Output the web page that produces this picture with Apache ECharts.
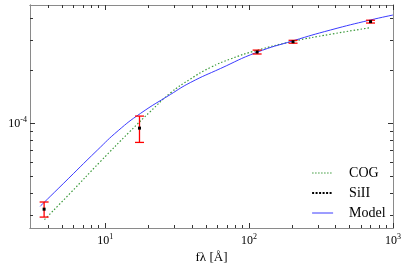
<!DOCTYPE html>
<html>
<head>
<meta charset="utf-8">
<script src="https://cdn.jsdelivr.net/npm/echarts@6/dist/echarts.min.js"></script>
<style>
html,body{margin:0;padding:0;background:#fff}
#main{width:407px;height:270px}
</style>
</head>
<body>
<div id="main"></div>
<script>
// axis extents and ticks (data units)
const xRange = [3, 1000];
const yRange = [2.53e-5, 4.74e-4];
const xMajorTicks = [10, 100, 1000];
const xMinorTicks = [4, 5, 6, 7, 8, 9, 20, 30, 40, 50, 60, 70, 80, 90, 200, 300, 400, 500, 600, 700, 800, 900];
const yMajorTicks = [1e-4];
const yMinorTicks = [3e-5, 4e-5, 5e-5, 6e-5, 7e-5, 8e-5, 9e-5, 2e-4, 3e-4, 4e-4];

// SiII measurements with error bars
const siX  = [3.76, 17.3, 113.7, 202, 698];
const siY  = [3.24e-5, 9.40e-5, 2.556e-4, 2.925e-4, 3.81e-4];
const siLo = [2.92e-5, 7.79e-5, 2.49e-4, 2.87e-4, 3.74e-4];
const siHi = [3.56e-5, 1.101e-4, 2.62e-4, 2.98e-4, 3.88e-4];

// model curve
const modelX = [3.53, 5.104, 8.797, 12.31, 17.52, 28.33, 39.02, 63.1, 112.3, 203.2, 367.5, 697.4, 1000];
const modelY = [3.367e-5, 4.529e-5, 7.028e-5, 9.097e-5, 1.138e-4, 1.461e-4, 1.71e-4, 2.056e-4, 2.539e-4, 2.965e-4, 3.412e-4, 3.893e-4, 4.155e-4];

// curve of growth
const cogX = [3.782, 5.707, 9.232, 14.93, 20.56, 28.33, 39.02, 53.76, 74.07, 112.3, 200, 367.5, 697.4];
const cogY = [2.827e-5, 3.996e-5, 6.048e-5, 9.036e-5, 1.168e-4, 1.49e-4, 1.791e-4, 2.084e-4, 2.331e-4, 2.606e-4, 2.934e-4, 3.226e-4, 3.517e-4];

const lg = Math.log10;
const pairs = (xs, ys) => xs.map((x, i) => [lg(x), lg(ys[i])]);

const serif = 'Liberation Serif';
const frameColor = '#8a8a8a';
const tickColor = '#333';
const supRich = {
    b: { fontFamily: serif, fontSize: 12, color: '#000' },
    s: { fontFamily: serif, fontSize: 8, color: '#000', padding: [0, 0, 7, 0] }
};
function supLabel(v) {
    return '{b|10}{s|' + Math.round(v) + '}';
}

function makeAxis(pos, range, ticks, len, withLabels, labelTicks) {
    const ax = {
        type: 'value',
        position: pos,
        min: lg(range[0]),
        max: lg(range[1]),
        splitLine: { show: false },
        axisLine: { show: true, onZero: false, lineStyle: { color: frameColor, width: 1 } },
        axisTick: {
            show: true, inside: true, length: len,
            customValues: ticks.map(lg),
            lineStyle: { color: tickColor, width: 1 }
        },
        axisLabel: { show: false }
    };
    if (withLabels) {
        ax.axisLabel = {
            show: true,
            customValues: labelTicks.map(lg),
            formatter: supLabel,
            rich: supRich,
            margin: pos === 'left' ? 3 : 5
        };
    }
    return ax;
}

const xAxes = [
    makeAxis('bottom', xRange, xMajorTicks, 5, true, xMajorTicks),
    makeAxis('bottom', xRange, xMinorTicks, 3, false),
    makeAxis('top', xRange, xMajorTicks, 5, false),
    makeAxis('top', xRange, xMinorTicks, 3, false)
];
xAxes[0].name = 'fλ [Å]';
xAxes[0].nameLocation = 'middle';
xAxes[0].nameGap = 22;
xAxes[0].nameTextStyle = { fontFamily: serif, fontSize: 13, color: '#000' };

const yAxes = [
    makeAxis('left', yRange, yMajorTicks, 5, true, yMajorTicks),
    makeAxis('left', yRange, yMinorTicks, 3, false),
    makeAxis('right', yRange, yMajorTicks, 5, false),
    makeAxis('right', yRange, yMinorTicks, 3, false)
];

const hidden = { opacity: 0 };

const chart = echarts.init(document.getElementById('main'));
chart.setOption({
    animation: false,
    backgroundColor: '#fff',
    grid: { left: 30, right: 14, top: 5, bottom: 42, containLabel: false },
    xAxis: xAxes,
    yAxis: yAxes,
    legend: {
        orient: 'vertical',
        left: 306,
        top: 161,
        itemWidth: 21,
        itemHeight: 14,
        itemGap: 6,
        textStyle: { fontFamily: serif, fontSize: 14, color: '#000', padding: [0, 0, 0, 11] },
        data: [
            { name: 'COG', itemStyle: hidden, lineStyle: { color: '#3c9a3c', width: 1, type: [1.5, 1.5], opacity: 1 } },
            { name: 'SiII', itemStyle: hidden, lineStyle: { color: '#000', width: 2.2, type: [2, 1.5], opacity: 1 } },
            { name: 'Model', itemStyle: hidden, lineStyle: { color: '#3b3bff', width: 1, opacity: 1 } }
        ]
    },
    series: [
        {
            name: 'COG',
            type: 'line',
            data: pairs(cogX, cogY),
            symbol: 'none',
            smooth: 0.5,
            lineStyle: { color: '#3c9a3c', width: 1.2, type: [1.5, 2] },
            itemStyle: { color: '#3c9a3c' },
            z: 2
        },
        {
            name: 'Model',
            type: 'line',
            data: pairs(modelX, modelY),
            symbol: 'none',
            smooth: 0.5,
            lineStyle: { color: '#3b3bff', width: 1 },
            itemStyle: { color: '#3b3bff' },
            z: 3
        },
        {
            name: 'errors',
            type: 'custom',
            data: siX.map((x, i) => [lg(x), lg(siLo[i]), lg(siHi[i])]),
            encode: { x: 0, y: [1, 2] },
            renderItem: function (params, api) {
                const x = api.value(0);
                const lo = api.coord([x, api.value(1)]);
                const hi = api.coord([x, api.value(2)]);
                const w = 4.5;
                const st = { stroke: '#ff0000', lineWidth: 1.3 };
                return {
                    type: 'group',
                    children: [
                        { type: 'line', shape: { x1: lo[0], y1: lo[1], x2: hi[0], y2: hi[1] }, style: st },
                        { type: 'line', shape: { x1: lo[0] - w, y1: lo[1], x2: lo[0] + w, y2: lo[1] }, style: st },
                        { type: 'line', shape: { x1: hi[0] - w, y1: hi[1], x2: hi[0] + w, y2: hi[1] }, style: st }
                    ]
                };
            },
            z: 4
        },
        {
            name: 'SiII',
            type: 'line',
            data: pairs(siX, siY),
            symbol: 'rect',
            symbolSize: 3,
            showSymbol: true,
            lineStyle: { opacity: 0, color: '#000' },
            itemStyle: { color: '#000' },
            z: 5
        }
    ]
});
</script>
</body>
</html>
